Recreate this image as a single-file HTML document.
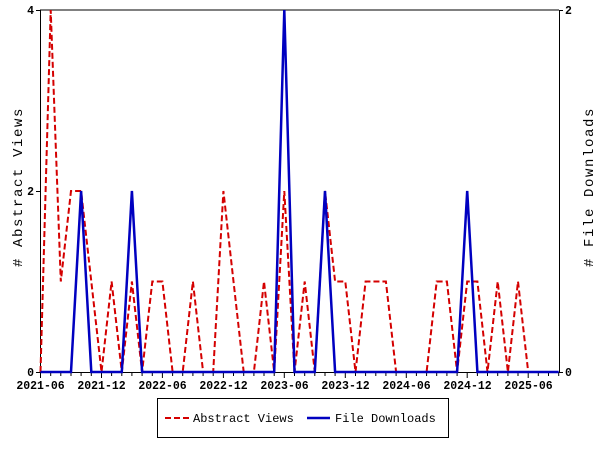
<!DOCTYPE html>
<html><head><meta charset="utf-8"><style>
html,body{margin:0;padding:0;background:#fff;}
svg{display:block;}
.t{font-family:"Liberation Mono",monospace;font-size:11.5px;font-weight:bold;fill:#000;}
.a{font-family:"Liberation Mono",monospace;font-size:14px;fill:#000;letter-spacing:1.6px;}
.l{font-family:"Liberation Mono",monospace;font-size:12px;fill:#000;}
</style></head><body>
<svg width="600" height="450" viewBox="0 0 600 450" xmlns="http://www.w3.org/2000/svg">
<rect width="600" height="450" fill="#fff"/>
<g id="ticks" stroke="#000" stroke-width="1"></g>
<line x1="40" y1="10" x2="559" y2="10" stroke="#000"/>
<line x1="40.5" y1="10" x2="40.5" y2="372" stroke="#000"/>
<line x1="559.5" y1="10" x2="559.5" y2="372" stroke="#000"/>
<line x1="40" y1="372.5" x2="559" y2="372.5" stroke="#000"/>
<g stroke="#000">
<line x1="36" y1="10.5" x2="40" y2="10.5"/><line x1="36" y1="191.5" x2="40" y2="191.5"/><line x1="36" y1="372.5" x2="40" y2="372.5"/>
<line x1="559" y1="10.5" x2="563" y2="10.5"/><line x1="559" y1="372.5" x2="563" y2="372.5"/>
</g>
<text class="t" x="34" y="14" text-anchor="end">4</text>
<text class="t" x="34" y="195" text-anchor="end">2</text>
<text class="t" x="34" y="376" text-anchor="end">0</text>
<text class="t" x="565" y="14">2</text>
<text class="t" x="565" y="376">0</text>
<g class="t" text-anchor="middle">
<text x="40.5" y="389">2021-06</text>
<text x="101.5" y="389">2021-12</text>
<text x="162.5" y="389">2022-06</text>
<text x="223.5" y="389">2022-12</text>
<text x="284.5" y="389">2023-06</text>
<text x="345.5" y="389">2023-12</text>
<text x="406.5" y="389">2024-06</text>
<text x="467.5" y="389">2024-12</text>
<text x="528.5" y="389">2025-06</text>
</g>
<text class="a" transform="translate(22,187) rotate(-90)" text-anchor="middle">#&#160;Abstract&#160;Views</text>
<text class="a" transform="translate(593,187) rotate(-90)" text-anchor="middle">#&#160;File&#160;Downloads</text>
<polyline id="red" fill="none" stroke="#d40000" stroke-width="2" stroke-dasharray="6,3"/>
<polyline id="blue" fill="none" stroke="#0000c0" stroke-width="2.5"/>
<rect x="157.5" y="398.5" width="291" height="39" fill="none" stroke="#000"/>
<line x1="165" y1="418" x2="190" y2="418" stroke="#d40000" stroke-width="2" stroke-dasharray="6,3"/>
<text class="l" x="193" y="422">Abstract&#160;Views</text>
<line x1="307" y1="418" x2="330" y2="418" stroke="#0000c0" stroke-width="2.5"/>
<text class="l" x="335" y="422">File&#160;Downloads</text>
</svg>
<script>
var X=function(m){return 40.5+m*10.16;};
var red=[0,4,1,2,2,1,0,1,0,1,0,1,1,0,0,1,0,0,2,1,0,0,1,0,2,0,1,0,2,1,1,0,1,1,1,0,0,0,0,1,1,0,1,1,0,1,0,1,0];
var p=[];for(var i=0;i<red.length;i++)p.push(X(i).toFixed(1)+","+(372-red[i]*90.5).toFixed(1));
document.getElementById("red").setAttribute("points",p.join(" "));
var bl={4:1,9:1,24:2,28:1,42:1};var q=[];
for(var i=0;i<=51;i++)q.push(Math.min(X(i),559).toFixed(1)+","+(372-(bl[i]||0)*181).toFixed(1));
document.getElementById("blue").setAttribute("points",q.join(" "));
var g=document.getElementById("ticks"),s="";
for(var i=0;i<=51;i++){var x=X(i);if(x>559)break;s+='<line x1="'+x.toFixed(1)+'" y1="372" x2="'+x.toFixed(1)+'" y2="'+(i%6==0?378:376)+'"/>';}
g.innerHTML=s;
</script>
</body></html>
